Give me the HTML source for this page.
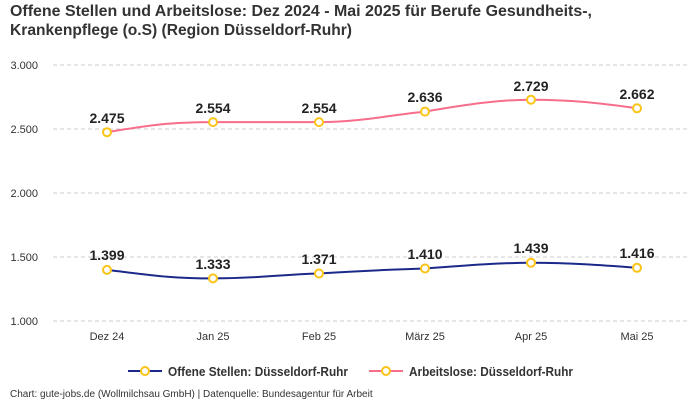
<!DOCTYPE html>
<html><head><meta charset="utf-8"><style>
body{margin:0;background:#fff;}
svg{display:block;font-family:"Liberation Sans",sans-serif;}
</style></head><body>
<svg width="700" height="400" xmlns="http://www.w3.org/2000/svg">
<text x="10" y="16" font-size="16" font-weight="bold" fill="#333" textLength="582" lengthAdjust="spacingAndGlyphs">Offene Stellen und Arbeitslose: Dez 2024 - Mai 2025 für Berufe Gesundheits-,</text>
<text x="10" y="35" font-size="16" font-weight="bold" fill="#333" textLength="342" lengthAdjust="spacingAndGlyphs">Krankenpflege (o.S) (Region Düsseldorf-Ruhr)</text>
<g stroke="#ccc" stroke-dasharray="4,3" stroke-width="1">
<line x1="53" x2="690" y1="65" y2="65"/><line x1="53" x2="690" y1="129" y2="129"/>
<line x1="53" x2="690" y1="193" y2="193"/><line x1="53" x2="690" y1="257" y2="257"/>
<line x1="53" x2="690" y1="321" y2="321"/>
</g>
<g font-size="11" fill="#333" text-anchor="end">
<text x="38" y="69">3.000</text><text x="38" y="133">2.500</text><text x="38" y="197">2.000</text><text x="38" y="261">1.500</text><text x="38" y="325">1.000</text>
</g>
<g font-size="11" fill="#333" text-anchor="middle">
<text x="107" y="340">Dez 24</text><text x="213" y="340">Jan 25</text><text x="319" y="340">Feb 25</text><text x="425" y="340">März 25</text><text x="531" y="340">Apr 25</text><text x="637" y="340">Mai 25</text>
</g>
<path d="M107,132.2 C150,125 170,122.1 213,122.1 C260,122.1 280,122.1 319,122.1 C360,122.1 390,115 425,111.6 C470,104 500,99.7 531,99.7 C570,99.7 600,103 637,108.3" fill="none" stroke="#f76e8a" stroke-width="2"/>
<path d="M107,269.9 C150,275 170,278.4 213,278.4 C260,278.4 280,274.5 319,273.5 C360,271 390,269.5 425,268.5 C470,265 500,262.8 531,262.8 C570,262.8 600,265 637,267.8" fill="none" stroke="#1b2a8a" stroke-width="2"/>
<g fill="#fff" stroke="#fcc419" stroke-width="2">
<circle cx="107" cy="132.2" r="4"/><circle cx="213" cy="122.1" r="4"/><circle cx="319" cy="122.1" r="4"/><circle cx="425" cy="111.6" r="4"/><circle cx="531" cy="99.7" r="4"/><circle cx="637" cy="108.3" r="4"/>
<circle cx="107" cy="269.9" r="4"/><circle cx="213" cy="278.4" r="4"/><circle cx="319" cy="273.5" r="4"/><circle cx="425" cy="268.5" r="4"/><circle cx="531" cy="262.8" r="4"/><circle cx="637" cy="267.8" r="4"/>
</g>
<g font-size="14" font-weight="bold" fill="#222" text-anchor="middle">
<text x="107" y="123">2.475</text><text x="213" y="113">2.554</text><text x="319" y="113">2.554</text><text x="425" y="102">2.636</text><text x="531" y="91">2.729</text><text x="637" y="99">2.662</text>
<text x="107" y="260">1.399</text><text x="213" y="269">1.333</text><text x="319" y="264">1.371</text><text x="425" y="259">1.410</text><text x="531" y="253">1.439</text><text x="637" y="258">1.416</text>
</g>
<line x1="128" x2="162" y1="371" y2="371" stroke="#1b2a8a" stroke-width="2"/>
<circle cx="145" cy="371" r="4" fill="#fff" stroke="#fcc419" stroke-width="2"/>
<text x="168" y="376" font-size="13" font-weight="bold" fill="#333" textLength="180" lengthAdjust="spacingAndGlyphs">Offene Stellen: Düsseldorf-Ruhr</text>
<line x1="369" x2="403" y1="371" y2="371" stroke="#f76e8a" stroke-width="2"/>
<circle cx="386" cy="371" r="4" fill="#fff" stroke="#fcc419" stroke-width="2"/>
<text x="409" y="376" font-size="13" font-weight="bold" fill="#333" textLength="164" lengthAdjust="spacingAndGlyphs">Arbeitslose: Düsseldorf-Ruhr</text>
<text x="10" y="397" font-size="10" fill="#333">Chart: gute-jobs.de (Wollmilchsau GmbH) | Datenquelle: Bundesagentur für Arbeit</text>
</svg>
</body></html>
